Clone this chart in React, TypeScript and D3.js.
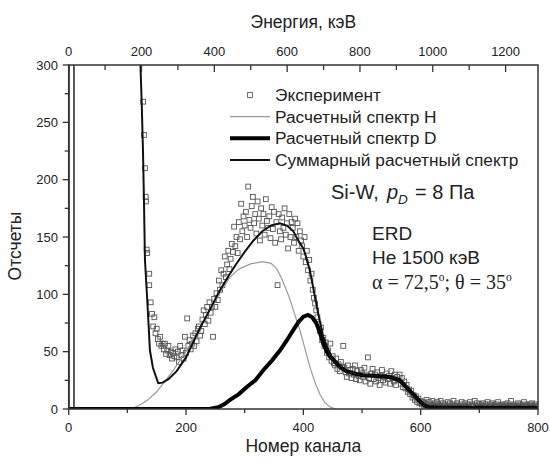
import * as React from "react"
import * as d3 from "d3"

// experiment: counts every 2 channels starting at ch 142
const expStart = 142
const expCounts = [
    83, 72, 80, 66, 70, 61, 57, 63, 55, 57,
    52, 57, 48, 51, 55, 47, 50, 44, 49, 46,
    52, 45, 50, 41, 55, 47, 51, 44, 63, 49,
    79, 55, 60, 52, 57, 64, 55, 66, 59, 70,
    72, 64, 68, 78, 86, 74, 82, 89, 77, 93,
    84, 89, 63, 96, 89, 101, 95, 112, 104, 121,
    108, 118, 133, 115, 126, 138, 122, 131, 144, 137,
    159, 142, 150, 136, 163, 148, 179, 155, 168, 160,
    172, 150, 194, 165, 158, 177, 185, 162, 170, 153,
    181, 166, 147, 175, 160, 170, 152, 183, 164, 158,
    168, 149, 176, 157, 172, 145, 163, 108, 170, 155,
    148, 167, 158, 175, 152, 162, 140, 170, 150, 163,
    158, 145, 166, 150, 162, 138, 155, 147, 142, 133,
    150, 128, 138, 121, 130, 112, 118, 104, 97, 92,
    86, 80, 74, 68, 71, 60, 62, 55, 58, 49,
    51, 45, 57, 42, 46, 40, 38, 44, 35, 39,
    33, 41, 37, 55, 36, 32, 28, 38, 31, 34,
    27, 35, 30, 38, 26, 33, 29, 25, 34, 31,
    28, 36, 24, 30, 45, 27, 22, 31, 35, 26,
    30, 24, 32, 27, 21, 29, 34, 25, 28, 23,
    31, 26, 29, 22, 33, 27, 24, 30, 21, 28,
    25, 30, 22, 27, 19, 24, 18, 21, 15, 17,
    13, 16, 10, 12, 8, 11, 6, 9, 5, 7,
    4, 6, 3, 5, 8, 3, 6, 2, 4, 7,
    3, 5, 2, 6, 4, 3, 7, 2, 5, 3,
    4, 2, 6, 3, 5, 2, 4, 7, 3, 2,
    5, 3, 2, 4, 6, 2, 3, 5, 2, 4,
    3, 6, 2, 4, 3, 7, 2, 5, 3, 4,
    2, 3, 5, 2, 4, 3, 6, 2, 4, 3,
    5, 2, 3, 4, 2, 6, 3, 2, 4, 3,
    2, 4, 3, 5, 2, 3, 7, 2, 4, 3,
    3, 2, 5, 3, 4, 2, 3, 6, 2, 4,
    3, 2, 4, 3, 5, 2, 3, 4, 2,
]
// points on the steep left edge
const edgeChannels = [127, 128.3, 130, 131.2, 131.7, 132.9, 133.9, 137.3, 137.3, 139.7]
const edgeCounts = [268, 239, 210, 185, 181, 139, 136, 118, 108, 93]

// calculated spectrum H
const hChannels = [105, 120, 135, 150, 164, 180, 200, 220, 240, 260, 275, 290, 310, 330, 345, 355, 362, 370, 377, 385, 394, 402, 411, 420, 428, 436, 445, 455]
const hCounts = [0, 3, 8, 15, 24, 35, 50, 67, 85, 103, 115, 122, 126.5, 128.5, 127, 122, 115, 105, 96, 83, 69, 54, 37, 23, 13, 6, 2, 0]

// calculated spectrum D
const dChannels = [0, 240, 255, 265, 275, 290, 303, 318, 332, 346, 360, 372, 383, 392, 400, 408, 415, 422, 428, 434, 440, 445, 451, 462, 473, 490, 502, 520, 547, 564, 572, 581, 590, 598, 606, 615, 640, 800]
const dCounts = [0, 0, 1.5, 4, 8, 13, 19, 25, 34, 42, 51, 60, 69, 76, 80.5, 82, 80, 75, 67, 57, 50, 46, 43, 37, 33, 30.5, 29.5, 29, 28, 25, 21, 16, 11.5, 7, 3, 1.5, 1, 1]

// summary calculated spectrum
const sumChannels = [121, 122.3, 124.4, 126.6, 128.3, 130, 133.9, 138.5, 143.6, 152.6, 160, 170, 184, 200, 212, 225, 240, 255, 270, 285, 300, 315, 330, 345, 360, 372, 383, 390, 400, 405, 411, 416, 420, 425, 430, 434, 440, 445, 451, 462, 473, 490, 502, 520, 547, 564, 572, 581, 590, 598, 606, 615, 640, 800]
const sumCounts = [340, 300, 268, 226, 182, 130, 95, 51, 36, 22.5, 23, 26, 33, 45, 58, 72, 86, 101, 114, 126, 137, 147, 155, 160, 162, 160, 155, 148, 140, 132, 121, 108, 97, 84, 72, 63, 55, 49, 43, 37, 33, 30.5, 29.5, 29, 28, 25, 21, 16, 11.5, 7, 3, 1.5, 1, 1]

// spike at the very start of the spectrum
const spikeChannels = [0.5, 0.5, 9, 9]
const spikeCounts = [0, 400, 400, 0]

const channelTicks = [0, 200, 400, 600, 800]
const energyTicks = [0, 200, 400, 600, 800, 1000, 1200]
const countTicks = [0, 50, 100, 150, 200, 250, 300]

const legendItems = ["Эксперимент", "Расчетный спектр H", "Расчетный спектр D", "Суммарный расчетный спектр"]

const sans = "'Liberation Sans', Arial, sans-serif"
const serif = "'Liberation Serif', 'Times New Roman', serif"

export default function App() {
    const width = 550
    const height = 463
    const left = 68.7, right = 538, top = 65, bottom = 409

    const x = d3.scaleLinear().domain([0, 800]).range([left, right])
    const xE = d3.scaleLinear().domain([0, 1289]).range([left, right])
    const y = d3.scaleLinear().domain([0, 300]).range([bottom, top])

    const line = d3.line<[number, number]>().x((d) => x(d[0])).y((d) => y(d[1]))
    const zip = (a: number[], b: number[]) => a.map((v, i) => [v, b[i]] as [number, number])

    const expPts = expCounts.map((c, i) => [expStart + 2 * i, c]).concat(zip(edgeChannels, edgeCounts))

    const legendY = [95, 116.7, 138.3, 160]

    return (
        <svg width={width} height={height} style={{ position: "absolute", left: 0, top: 0, background: "#fff" }}>
            <defs>
                <clipPath id="plot">
                    <rect x={left} y={top} width={right - left} height={bottom - top} />
                </clipPath>
            </defs>

            <g clipPath="url(#plot)">
                {expPts.map((p, i) => (
                    <rect key={i} x={x(p[0]) - 2.4} y={y(p[1]) - 2.4} width={4.8} height={4.8}
                        fill="none" stroke="#555" strokeWidth={0.9} />
                ))}
                <path d={line(zip(hChannels, hCounts)) || ""} fill="none" stroke="#999" strokeWidth={1.2} />
                <path d={line(zip(dChannels, dCounts)) || ""} fill="none" stroke="#000" strokeWidth={4} />
                <path d={line(zip(sumChannels, sumCounts)) || ""} fill="none" stroke="#111" strokeWidth={2} />
                <path d={line(zip(spikeChannels, spikeCounts)) || ""} fill="none" stroke="#222" strokeWidth={1.5} />
            </g>

            {/* frame */}
            <rect x={left} y={top} width={right - left} height={bottom - top} fill="none" stroke="#333" strokeWidth={1.5} />

            {/* bottom axis */}
            {d3.range(0, 801, 100).map((t) => (
                <line key={"b" + t} x1={x(t)} x2={x(t)} y1={bottom} y2={bottom + (t % 200 === 0 ? 6 : 4)} stroke="#333" strokeWidth={1.3} />
            ))}
            {channelTicks.map((t) => (
                <text key={"bl" + t} x={x(t)} y={431.5} textAnchor="middle" fontFamily={sans} fontSize={13} fill="#222">{t}</text>
            ))}
            <text x={(left + right) / 2} y={452} textAnchor="middle" fontFamily={sans} fontSize={17.5} fill="#222">Номер канала</text>

            {/* top axis */}
            {d3.range(0, 1290, 100).map((t) => (
                <line key={"t" + t} x1={xE(t)} x2={xE(t)} y1={top} y2={top + (t % 200 === 0 ? 7 : 5)} stroke="#333" strokeWidth={1.3} />
            ))}
            {energyTicks.map((t) => (
                <text key={"tl" + t} x={xE(t)} y={56} textAnchor="middle" fontFamily={sans} fontSize={13} fill="#222">{t}</text>
            ))}
            <text x={(left + right) / 2} y={28} textAnchor="middle" fontFamily={sans} fontSize={17.5} fill="#222">Энергия, кэВ</text>

            {/* left axis */}
            {d3.range(0, 301, 25).map((t) => (
                <line key={"l" + t} x1={left} x2={left - (t % 50 === 0 ? 6 : 4)} y1={y(t)} y2={y(t)} stroke="#333" strokeWidth={1.3} />
            ))}
            {countTicks.map((t) => (
                <text key={"ll" + t} x={58} y={y(t)} dy="0.35em" textAnchor="end" fontFamily={sans} fontSize={13} fill="#222">{t}</text>
            ))}
            <text transform="translate(21,246) rotate(-90)" textAnchor="middle" fontFamily={sans} fontSize={17.5} fill="#222">Отсчеты</text>

            {/* legend */}
            <rect x={250 - 2.4} y={legendY[0] - 2.4} width={4.8} height={4.8} fill="none" stroke="#555" strokeWidth={0.9} />
            <line x1={230} x2={270} y1={legendY[1]} y2={legendY[1]} stroke="#999" strokeWidth={1.2} />
            <line x1={230} x2={270} y1={legendY[2]} y2={legendY[2]} stroke="#000" strokeWidth={4} />
            <line x1={230} x2={270} y1={legendY[3]} y2={legendY[3]} stroke="#111" strokeWidth={2} />
            {legendItems.map((s, i) => (
                <text key={s} x={275} y={legendY[i]} dy="0.35em" fontFamily={sans} fontSize={17.3} fill="#222">{s}</text>
            ))}

            {/* annotations */}
            <text y={199} fontFamily={sans} fontSize={20} fill="#222">
                <tspan x={331}>Si-W,</tspan>
                <tspan x={387} fontStyle="italic">p</tspan>
                <tspan x={398} fontStyle="italic" fontSize={13.5} dy={5}>D</tspan>
                <tspan x={415} dy={-5}>= 8 Па</tspan>
            </text>
            <text x={372} y={240} fontFamily={sans} fontSize={19} fill="#222">ERD</text>
            <text x={372} y={264} fontFamily={sans} fontSize={19} fill="#222">He 1500 кэВ</text>
            <text x={372} y={289} fontFamily={serif} fontSize={20} fill="#222">
                α = 72,5<tspan fontSize={11.5} dy={-8}>o</tspan>
                <tspan dy={8}>; θ = 35</tspan>
                <tspan fontSize={11.5} dy={-8}>o</tspan>
            </text>
        </svg>
    )
}
